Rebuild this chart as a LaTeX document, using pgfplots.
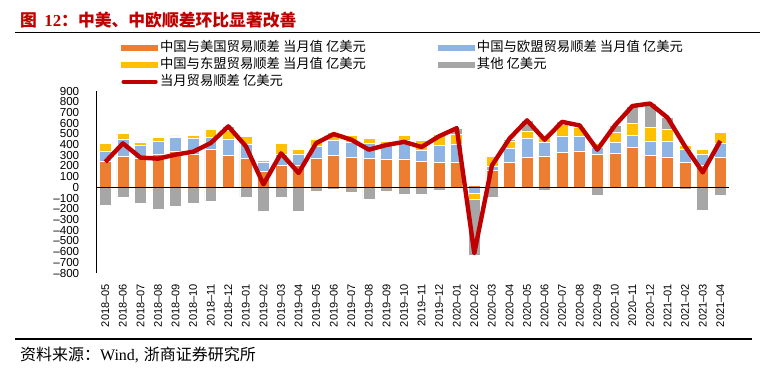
\documentclass[border=0pt]{standalone}
\usepackage{pgfplots}
\pgfplotsset{compat=1.18}
\usepackage{pgfplotstable}
\usepackage{fontspec}
\setmainfont{Liberation Sans}
\newfontfamily\cjk{Noto Sans CJK SC}
\newfontfamily\tnr{Liberation Serif}

\definecolor{cUS}{HTML}{ED7D31}
\definecolor{cEU}{HTML}{8DB4E2}
\definecolor{cAS}{HTML}{FFC000}
\definecolor{cOT}{HTML}{A6A6A6}
\definecolor{cLine}{HTML}{C00000}
\definecolor{cTitle}{HTML}{C00000}

\pgfplotstableread{
x us eu as ot tot
0 246 94 68 -171 237
1 287 165 49 -90 411
2 270 122 32 -146 278
3 308 125 34 -202 268
4 340 127 13 -174 306
5 311 144 31 -153 333
6 352 115 75 -128 414
7 296 156 80 38 570
8 271 131 72 -90 384
9 146 91 15 -227 28
10 202 106 100 -90 318
11 209 103 46 -224 134
12 268 112 72 -37 413
13 299 137 78 -16 498
14 280 144 65 -47 445
15 271 143 47 -112 352
16 259 137 34 -37 396
17 265 171 50 -62 425
18 246 97 99 -65 377
19 231 158 109 -25 478
20 237 165 93 55 553
21 22 -56 -56 -525 -615
22 156 40 94 -90 204
23 231 133 69 19 455
24 277 184 62 100 626
25 293 131 43 -28 445
26 324 156 109 25 612
27 340 133 88 12 578
28 307 70 38 -75 352
29 318 102 91 72 578
30 376 113 109 162 760
31 300 135 123 227 783
32 285 150 107 110 651
33 232 126 38 -14 381
34 209 96 47 -212 140
35 280 134 97 -78 434
}\data

\pgfplotsset{
  base/.style={scale only axis, width=474.4pt, height=136.5pt,
    xmin=-0.5, xmax=35.5, ymin=-800, ymax=900,
    at={(72.4pt,-204.75pt)}, anchor=south west},
  bars/.style={base, ybar stacked, bar width=0.68},
  barlegend/.style={legend image code/.code={\fill[##1] (0pt,-2.2pt) rectangle (27.5pt,2.2pt);}},
  linelegend/.style={legend image code/.code={\draw[##1, line cap=round] (1.8pt,0pt) -- (25.7pt,0pt);}},
}

\begin{document}
\begin{tikzpicture}
\useasboundingbox (0,0) rectangle (571.5pt,-276.75pt);

\node[anchor=west, text=cTitle, font=\cjk\bfseries\fontsize{12.6}{14}\selectfont] at (11.5pt,-15pt)
  {图\hspace{0.45em}{\tnr\bfseries 12}：中美、中欧顺差环比显著改善};
\draw[black, line width=0.8pt] (11.25pt,-24.4pt) -- (570pt,-24.4pt);
\draw[black, line width=0.8pt] (11.25pt,-254.25pt) -- (564pt,-254.25pt);
\node[anchor=west, font=\cjk\fontsize{12}{14}\selectfont] at (11.5pt,-266.5pt)
  {资料来源：{\tnr Wind,}\hspace{0.3em}浙商证券研究所};

% positive parts + axis decorations
\begin{axis}[bars,
  axis y line*=left, axis x line*=bottom,
  x axis line style={draw=none}, y axis line style={-, black, line width=0.6pt},
  tick style={draw=none},
  xtick={0,...,35},
  xticklabels={2018–05,2018–06,2018–07,2018–08,2018–09,2018–10,2018–11,2018–12,2019–01,2019–02,2019–03,2019–04,2019–05,2019–06,2019–07,2019–08,2019–09,2019–10,2019–11,2019–12,2020–01,2020–02,2020–03,2020–04,2020–05,2020–06,2020–07,2020–08,2020–09,2020–10,2020–11,2020–12,2021–01,2021–02,2021–03,2021–04},
  xticklabel style={rotate=90, anchor=east, font=\fontsize{8.3}{10}\selectfont},
  xticklabel shift=4.7pt,
  ytick={-800,-700,...,900},
  yticklabels={–800,–700,–600,–500,–400,–300,–200,–100,0,100,200,300,400,500,600,700,800,900},
  yticklabel style={font=\fontsize{8.7}{10}\selectfont},
  yticklabel shift=9.5pt,
]
\addplot[fill=cUS, draw=white, line width=0.4pt] table[x=x, y expr={max(\thisrow{us},0)}] {\data};
\addplot[fill=cEU, draw=white, line width=0.4pt] table[x=x, y expr={max(\thisrow{eu},0)}] {\data};
\addplot[fill=cAS, draw=white, line width=0.4pt] table[x=x, y expr={max(\thisrow{as},0)}] {\data};
\addplot[fill=cOT, draw=white, line width=0.4pt] table[x=x, y expr={max(\thisrow{ot},0)}] {\data};
\end{axis}

% negative parts
\begin{axis}[bars, hide axis]
\addplot[fill=cEU, draw=white, line width=0.4pt] table[x=x, y expr={min(\thisrow{eu},0)}] {\data};
\addplot[fill=cAS, draw=white, line width=0.4pt] table[x=x, y expr={min(\thisrow{as},0)}] {\data};
\addplot[fill=cOT, draw=white, line width=0.4pt] table[x=x, y expr={min(\thisrow{ot},0)}] {\data};
\end{axis}

% zero line, total line, legend
\begin{axis}[base, hide axis,
  legend columns=2,
  legend style={at={(0.0387,1.2857)}, anchor=north west, draw=none, fill=none,
    inner sep=0pt, row sep=0pt,
    font=\cjk\fontsize{10}{12}\selectfont,
    nodes={inner sep=1.6pt, text height=7.6pt, text depth=2pt},
    /tikz/every even column/.append style={column sep=52.5pt}},
  legend cell align=left,
]
\addplot[black, line width=0.8pt, forget plot] coordinates {(-0.5,0) (35.5,0)};
\addlegendimage{barlegend, fill=cUS, draw=none}
\addlegendentry{中国与美国贸易顺差 当月值 亿美元}
\addlegendimage{barlegend, fill=cEU, draw=none}
\addlegendentry{中国与欧盟贸易顺差 当月值 亿美元}
\addlegendimage{barlegend, fill=cAS, draw=none}
\addlegendentry{中国与东盟贸易顺差 当月值 亿美元}
\addlegendimage{barlegend, fill=cOT, draw=none}
\addlegendentry{其他 亿美元}
\addplot[cLine, line width=3.3pt, line join=round, mark=none, linelegend] table[x=x, y=tot] {\data};
\addlegendentry{当月贸易顺差 亿美元}
\end{axis}
\end{tikzpicture}
\end{document}
